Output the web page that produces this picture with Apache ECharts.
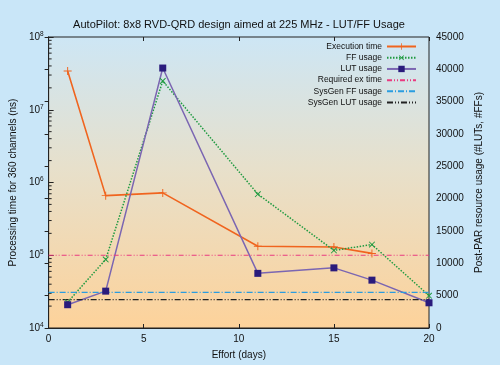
<!DOCTYPE html>
<html><head><meta charset="utf-8">
<script src="https://cdn.jsdelivr.net/npm/echarts@6/dist/echarts.min.js"></script>
<style>html,body{margin:0;padding:0;background:#c9e6f8}#c{width:500px;height:365px}</style>
</head><body><div id="c"></div>
<script>
// ---- data ----
const titleText = 'AutoPilot: 8x8 RVD-QRD design aimed at 225 MHz - LUT/FF Usage';
const effortExec = [1, 3, 6, 11, 15, 17];
const execTime = [3.4e7, 6.6e5, 7.2e5, 1.33e5, 1.3e5, 1.06e5];
const effortUsage = [1, 3, 6, 11, 15, 17, 20];
const ffUsage = [4000, 10600, 38200, 20700, 12000, 12900, 5000];
const lutUsage = [3600, 5700, 40200, 8450, 9300, 7400, 3900];
const requiredExTime = 1e5;
const sysGenFF = 5500;
const sysGenLUT = 4400;
const xRange = [0, 20];
const leftRange = [1e4, 1e8];
const rightRange = [0, 45000];
const seriesNames = ['Execution time', 'FF usage', 'LUT usage', 'Required ex time', 'SysGen FF usage', 'SysGen LUT usage'];

// minor ticks of the log axis (2..9 x 10^n)
const minorTickVals = [];
for (let d = 4; d < 8; d++) for (let k = 2; k <= 9; k++) minorTickVals.push(k * Math.pow(10, d));

const zip = (xs, ys) => xs.map((x, i) => [x, ys[i]]);
const FONT = '"Liberation Sans", Arial, sans-serif';
const plusPath = 'path://M4.4,0L5.6,0L5.6,4.4L10,4.4L10,5.6L5.6,5.6L5.6,10L4.4,10L4.4,5.6L0,5.6L0,4.4L4.4,4.4Z';

const chart = echarts.init(document.getElementById('c'), null, {renderer: 'canvas'});
chart.setOption({
  backgroundColor: '#c9e6f8',
  animation: false,
  textStyle: {fontFamily: FONT},
  title: {
    text: titleText, left: 234, top: 14, textAlign: 'center',
    textStyle: {fontSize: 11, fontWeight: 'normal', color: '#111', fontFamily: FONT}
  },
  legend: {
    data: seriesNames.map((n, i) => i < 3 ? {name: n} : {name: n, itemStyle: {opacity: 0}}),
    orient: 'vertical', align: 'right',
    right: 83, top: 42, itemWidth: 29, itemHeight: 8, itemGap: 2.2,
    textStyle: {fontSize: 8.5, color: '#111', fontFamily: FONT},
    padding: 0
  },
  grid: {
    left: 40, right: 71, top: 37, bottom: 37, show: true,
    borderColor: '#222', borderWidth: 1,
    backgroundColor: {type: 'linear', x: 0, y: 0, x2: 0, y2: 1, colorStops: [
      {offset: 0, color: '#cde6f5'}, {offset: 0.45, color: '#e7e0cb'}, {offset: 1, color: '#fdd29a'}]}
  },
  xAxis: [{
    type: 'value', min: xRange[0], max: xRange[1], interval: 5,
    name: 'Effort (days)', nameLocation: 'middle', nameGap: 22,
    nameTextStyle: {fontSize: 10, color: '#111'},
    axisLine: {show: true, lineStyle: {color: '#222'}},
    axisTick: {inside: true, length: 4, lineStyle: {color: '#222'}},
    axisLabel: {fontSize: 10, color: '#111', margin: 6},
    splitLine: {show: false}
  }, {
    type: 'value', position: 'top', min: xRange[0], max: xRange[1], interval: 5,
    axisLine: {show: false}, axisLabel: {show: false},
    axisTick: {inside: true, length: 4, lineStyle: {color: '#222'}},
    splitLine: {show: false}
  }],
  yAxis: [{
    type: 'log', logBase: 10, min: leftRange[0], max: leftRange[1], position: 'left',
    name: 'Processing time for 360 channels (ns)', nameLocation: 'middle', nameGap: 29,
    nameTextStyle: {fontSize: 10, color: '#111'},
    axisLine: {show: true, lineStyle: {color: '#222'}},
    axisTick: {inside: true, length: 5, lineStyle: {color: '#222'}},
    axisLabel: {
      color: '#111', margin: 5,
      formatter: v => '{b|10}{s|' + Math.round(Math.log10(v)) + '}',
      rich: {b: {fontSize: 10, color: '#111'}, s: {fontSize: 6.5, color: '#111', verticalAlign: 'top', padding: [0, 0, 6, 0]}}
    },
    splitLine: {show: false}
  }, {
    type: 'value', min: rightRange[0], max: rightRange[1], interval: 5000, position: 'right',
    name: 'Post-PAR resource usage (#LUTs, #FFs)', nameLocation: 'middle', nameGap: 45, nameRotate: 90,
    nameTextStyle: {fontSize: 10, color: '#111'},
    axisLine: {show: true, lineStyle: {color: '#222'}},
    axisTick: {inside: true, length: 4, lineStyle: {color: '#222'}},
    axisLabel: {fontSize: 10, color: '#111', margin: 7, formatter: v => String(v)},
    splitLine: {show: false}
  }],
  series: [{
    name: seriesNames[0], type: 'line', yAxisIndex: 0, data: zip(effortExec, execTime),
    symbol: plusPath, symbolSize: 8, showAllSymbol: true,
    color: '#f0641e', lineStyle: {width: 1.6, color: '#f0641e'}, itemStyle: {color: '#f0641e'}
  }, {
    name: seriesNames[1], type: 'line', yAxisIndex: 1, data: zip(effortUsage, ffUsage),
    symbol: plusPath, symbolSize: 8, symbolRotate: 45,
    color: '#1f9a40', lineStyle: {width: 1.5, type: [1.5, 1.5], color: '#1f9a40'}, itemStyle: {color: '#1f9a40'}
  }, {
    name: seriesNames[2], type: 'line', yAxisIndex: 1, data: zip(effortUsage, lutUsage),
    symbol: 'rect', symbolSize: 7,
    color: '#2a1b7c', lineStyle: {width: 1.5, color: '#7b66b2'}, itemStyle: {color: '#2a1b7c'}
  }, {
    name: seriesNames[3], type: 'line', yAxisIndex: 0, data: zip(xRange, [requiredExTime, requiredExTime]),
    symbol: 'none', color: '#e93a80', lineStyle: {width: 1.2, type: [5, 2, 1, 2, 1, 2], color: '#e93a80'}
  }, {
    name: seriesNames[4], type: 'line', yAxisIndex: 1, data: zip(xRange, [sysGenFF, sysGenFF]),
    symbol: 'none', color: '#2a9de0', lineStyle: {width: 1.2, type: [6, 2, 1, 2], color: '#2a9de0'}
  }, {
    name: seriesNames[5], type: 'line', yAxisIndex: 1, data: zip(xRange, [sysGenLUT, sysGenLUT]),
    symbol: 'none', color: '#222', lineStyle: {width: 1.2, type: [6, 2, 1, 2, 1, 2], color: '#222'}
  }, {
    name: 'minorTicks', type: 'custom', yAxisIndex: 0, silent: true,
    data: minorTickVals.map(v => [xRange[0], v]),
    renderItem: (params, api) => {
      const p = api.coord([api.value(0), api.value(1)]);
      return {type: 'line', shape: {x1: p[0], y1: p[1], x2: p[0] + 3, y2: p[1]}, style: {stroke: '#222', lineWidth: 1}};
    }
  }]
});
</script></body></html>
